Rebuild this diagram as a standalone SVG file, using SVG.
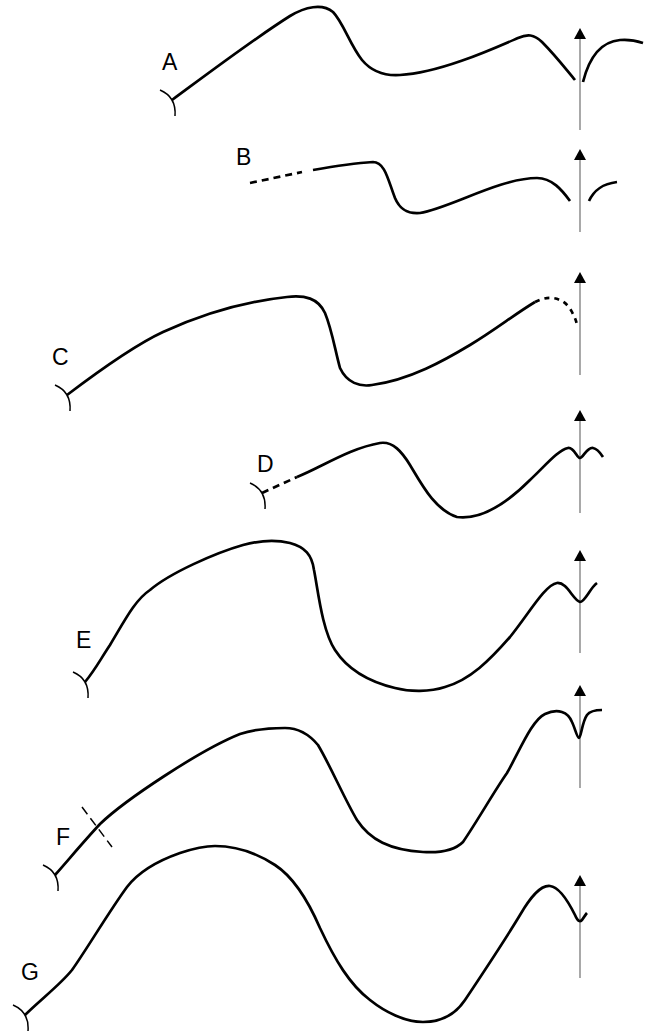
<svg xmlns="http://www.w3.org/2000/svg" width="647" height="1031" viewBox="0 0 647 1031">
<style>
.tr{fill:none;stroke:#000;stroke-width:2.7;stroke-linecap:butt;stroke-linejoin:round}
.dash{fill:none;stroke:#000;stroke-width:2.7;stroke-dasharray:7,5}
.dot{fill:none;stroke:#000;stroke-width:2.7;stroke-dasharray:5,5}
.br{fill:none;stroke:#000;stroke-width:1.5}
.ax{stroke:#7a7a7a;stroke-width:1.3;fill:none}
.lb{font-family:"Liberation Sans",Arial,sans-serif;font-size:23px;fill:#000}
</style>
<defs>
<path id="brk" d="M-12,-10 Q4.5,-3 3,16"/>
</defs>
<g id="connectors">
<line class="ax" x1="580" y1="130" x2="580" y2="30"/><path d="M580,28 L586,39 L574,39 Z"/>
<line class="ax" x1="580" y1="232" x2="580" y2="151"/><path d="M580,149 L586,160 L574,160 Z"/>
<line class="ax" x1="580" y1="375" x2="580" y2="274"/><path d="M580,272 L586,283 L574,283 Z"/>
<line class="ax" x1="580" y1="513" x2="580" y2="412"/><path d="M580,410 L586,421 L574,421 Z"/>
<line class="ax" x1="580" y1="653" x2="580" y2="552"/><path d="M580,550 L586,561 L574,561 Z"/>
<line class="ax" x1="580" y1="788" x2="580" y2="687"/><path d="M580,685 L586,696 L574,696 Z"/>
<line class="ax" x1="580" y1="978" x2="580" y2="877"/><path d="M580,875 L586,886 L574,886 Z"/>
</g>
<g id="trace-A">
<text class="lb" x="162" y="70">A</text>
<use href="#brk" class="br" x="172" y="100"/>
<path class="tr" d="M172,100 C210,72 255,38 290,16 C305,7 322,3 333,12 C343,22 350,45 362,60 C372,72 385,76 400,75 C440,73 495,48 518,38 C527,34 534,34 542,42 C555,55 565,68 575,80"/>
<path class="tr" d="M583,82 C588,62 598,42 620,40 C630,39 637,41 643,43"/>
</g>
<g id="trace-B">
<text class="lb" x="236" y="165">B</text>
<path class="dash" d="M250,183 L302,172"/>
<path class="tr" d="M313,170 C335,166 355,163 373,162 C385,162 388,180 395,198 C400,210 408,214 420,213 C450,208 500,178 537,178 C552,178 562,190 570,201"/>
<path class="tr" d="M589,201 C594,190 602,184 617,182"/>
</g>
<g id="trace-C">
<text class="lb" x="52" y="365">C</text>
<use href="#brk" class="br" x="67" y="395"/>
<path class="tr" d="M67,395 C100,370 135,345 163,332 C200,315 240,302 287,297 C305,295 318,298 325,313 C332,330 335,350 340,368 C347,383 360,387 372,385 C410,380 445,360 470,345 C495,330 515,314 535,302"/>
<path class="dot" d="M535,302 C550,294 565,298 572,312 C575,318 577,322 577,327"/>
</g>
<g id="trace-D">
<text class="lb" x="257" y="472">D</text>
<use href="#brk" class="br" x="262" y="493"/>
<path class="dash" d="M262,493 L297,477"/>
<path class="tr" d="M297,477 C320,468 350,448 380,443 C393,441 402,452 410,465 C422,485 435,510 457,517 C480,520 505,505 530,480 C545,466 558,450 568,448 C574,447 577,458 580,458 C583,458 587,447 593,448 C598,449 601,454 603,457"/>
</g>
<g id="trace-E">
<text class="lb" x="76" y="648">E</text>
<use href="#brk" class="br" x="85" y="682"/>
<path class="tr" d="M85,682 C95,670 100,660 110,645 C125,620 135,600 150,590 C170,573 215,553 243,545 C258,541 273,539 290,543 C305,547 312,555 314,570 C318,590 322,630 335,650 C348,670 370,682 395,688 C410,692 430,692 445,687 C470,680 490,660 510,637 C530,612 545,585 557,583 C567,582 573,600 580,602 C585,602 590,588 597,583"/>
</g>
<g id="trace-F">
<text class="lb" x="56" y="845">F</text>
<use href="#brk" class="br" x="55" y="875"/>
<path class="br" stroke-dasharray="9,5" d="M82,807 L112,847"/>
<path class="tr" d="M55,875 C70,858 85,840 100,824 C125,800 200,750 240,734 C255,729 268,728 285,728 C298,728 308,733 318,745 C330,765 345,800 357,820 C370,840 390,850 423,852 C440,853 455,850 463,842 C478,820 495,790 507,773 C520,750 532,720 545,714 C558,708 568,712 572,722 C575,728 577,738 579,738 C581,738 582,722 587,715 C590,711 596,710 602,710"/>
</g>
<g id="trace-G">
<text class="lb" x="21" y="980">G</text>
<use href="#brk" class="br" x="25" y="1015"/>
<path class="tr" d="M25,1015 C40,1000 60,985 72,970 C85,952 110,910 127,887 C140,870 160,860 180,853 C195,848 205,846 215,846 C235,846 255,852 275,865 C295,878 310,905 320,928 C335,960 350,985 370,1000 C385,1012 405,1022 423,1022 C440,1022 455,1015 465,1000 C485,970 505,940 520,915 C530,898 540,885 550,886 C560,887 570,905 575,915 C578,922 580,922 582,920 C584,917 586,914 587,913"/>
</g>
</svg>
